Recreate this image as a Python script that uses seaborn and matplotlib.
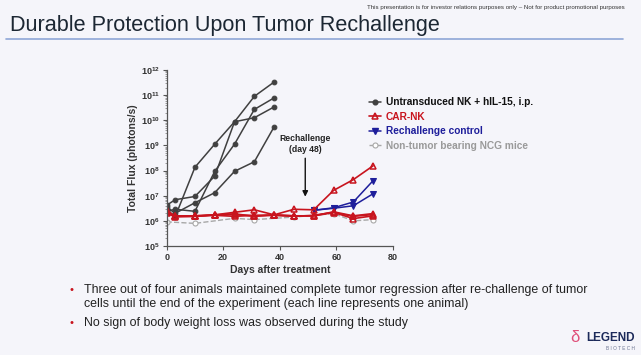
import numpy as np
import pandas as pd
import seaborn as sns
import matplotlib.pyplot as plt
from matplotlib.lines import Line2D

# days of imaging
days_nk = [0, 3, 10, 17, 24, 31, 38]
days_car = [0, 3, 10, 17, 24, 31, 38, 45, 52, 59, 66, 73]
days_rc = [52, 59, 66, 73]
days_ctrl = [0, 10, 24, 31, 45, 59, 66, 73]

# log10 total flux, one list per animal
nk_a = [6.46, 6.16, 8.13, 9.05, 9.94, 10.95, 11.52]
nk_b = [6.62, 6.84, 6.97, 7.78, 9.94, 10.10, 10.53]
nk_c = [6.38, 6.46, 6.38, 7.97, 9.05, 10.43, 10.89]
nk_d = [6.55, 6.30, 6.72, 7.12, 7.97, 8.35, 9.74]

car_1 = [6.42, 6.18, 6.18, 6.24, 6.34, 6.44, 6.24, 6.46, 6.44, 7.21, 7.64, 8.19]
car_2 = [6.38, 6.18, 6.20, 6.24, 6.25, 6.20, 6.24, 6.20, 6.20, 6.36, 6.20, 6.29]
car_3 = [6.30, 6.16, 6.18, 6.22, 6.18, 6.22, 6.22, 6.18, 6.22, 6.34, 6.09, 6.20]
car_4 = [6.35, 6.20, 6.20, 6.23, 6.28, 6.18, 6.23, 6.20, 6.20, 6.33, 6.18, 6.25]

rc_1 = [6.42, 6.52, 6.75, 7.60]
rc_2 = [6.42, 6.50, 6.60, 7.08]

ctrl = [5.96, 5.90, 6.10, 6.05, 6.15, 6.29, 6.00, 6.05]

legend_labels = ["Untransduced NK + hIL-15, i.p.", "CAR-NK",
                 "Rechallenge control", "Non-tumor bearing NCG mice"]
bullet_lines = ["Three out of four animals maintained complete tumor regression after re-challenge of tumor",
                "cells until the end of the experiment (each line represents one animal)",
                "No sign of body weight loss was observed during the study"]


def long_form(days, animals):
    rows = []
    for k, vals in enumerate(animals):
        for d, v in zip(days, vals):
            rows.append({"day": d, "flux": 10 ** v, "animal": k})
    return pd.DataFrame(rows)


df_nk = long_form(days_nk, [nk_a, nk_b, nk_c, nk_d])
df_car = long_form(days_car, [car_1, car_2, car_3, car_4])
df_rc = long_form(days_rc, [rc_1, rc_2])
df_ctrl = long_form(days_ctrl, [ctrl])

bg = "#f5f5fa"
c_nk, c_car, c_rc, c_ctrl = "#404040", "#c8141e", "#1e1e9b", "#a8a8a8"

sns.set_style("ticks")
plt.rcParams["font.family"] = ["Liberation Sans", "DejaVu Sans"]

fig = plt.figure(figsize=(6.41, 3.55), dpi=100, facecolor=bg)
ax = fig.add_axes([0.26, 0.307, 0.353, 0.496], facecolor=bg)

sns.lineplot(data=df_ctrl, x="day", y="flux", units="animal", estimator=None,
             color=c_ctrl, lw=1.0, ls="--", marker="o", ms=3.6, mfc="white",
             mec=c_ctrl, mew=0.8, ax=ax)
sns.lineplot(data=df_nk, x="day", y="flux", units="animal", estimator=None,
             color=c_nk, lw=1.1, marker="o", ms=3.4, mec=c_nk, ax=ax)
sns.lineplot(data=df_rc, x="day", y="flux", units="animal", estimator=None,
             color=c_rc, lw=1.1, marker="v", ms=4, mec=c_rc, ax=ax)
sns.lineplot(data=df_car, x="day", y="flux", units="animal", estimator=None,
             color=c_car, lw=1.2, marker="^", ms=4.6, mfc="none", mec=c_car,
             mew=1.1, ax=ax)

ax.set_yscale("log")
ax.set_ylim(1e5, 1e12)
ax.set_xlim(0, 80)
ax.set_xticks([0, 20, 40, 60, 80])
ax.set_yticks([10.0 ** p for p in range(5, 13)])
for s in ["top", "right"]:
    ax.spines[s].set_visible(False)
for s in ["left", "bottom"]:
    ax.spines[s].set_color("#555555")
    ax.spines[s].set_linewidth(0.9)
ax.tick_params(axis="both", labelsize=6.5, colors="#555555", labelcolor="#333333",
               length=3, width=0.8, pad=2)
ax.tick_params(axis="y", which="minor", length=1.6, width=0.5, colors="#777777")
for lab in ax.get_xticklabels() + ax.get_yticklabels():
    lab.set_fontweight("bold")
ax.set_xlabel("Days after treatment", fontsize=7.5, fontweight="bold",
              color="#333333", labelpad=2)
ax.set_ylabel("Total Flux (photons/s)", fontsize=7.5, fontweight="bold",
              color="#333333", labelpad=2)

# rechallenge arrow
ax.annotate("", xy=(49, 10 ** 6.85), xytext=(49, 10 ** 8.6),
            arrowprops=dict(arrowstyle="-|>", color="#111111", lw=1.0,
                            mutation_scale=8))
ax.text(49, 10 ** 9.05, "Rechallenge\n(day 48)", ha="center", va="center",
        fontsize=6.2, fontweight="bold", color="#222222", linespacing=1.2)

# legend
handles = [
    Line2D([], [], color=c_nk, lw=1.1, marker="o", ms=3.4),
    Line2D([], [], color=c_car, lw=1.2, marker="^", ms=4.6, mfc="none", mew=1.1),
    Line2D([], [], color=c_rc, lw=1.1, marker="v", ms=4),
    Line2D([], [], color=c_ctrl, lw=1.0, ls="--", marker="o", ms=3.6,
           mfc="white", mew=0.8),
]
leg = fig.legend(handles, legend_labels, loc="upper left",
                 bbox_to_anchor=(0.561, 0.752), frameon=False,
                 prop={"size": 7.3, "weight": "bold"}, handlelength=1.2,
                 handletextpad=0.5, labelspacing=0.45)
for txt, col in zip(leg.get_texts(), ["#111111", c_car, c_rc, "#9a9a9a"]):
    txt.set_color(col)

# slide furniture
fig.text(0.975, 1 - 7 / 355, "This presentation is for investor relations purposes only \u2013 "
         "Not for product promotional purposes", ha="right", va="center",
         fontsize=4.45, color="#333333")
fig.text(0.016, 1 - 26 / 355, "Durable Protection Upon Tumor Rechallenge", ha="left",
         va="center", fontsize=15.6, color="#1c2733")
fig.add_artist(Line2D([6 / 641, 623 / 641], [1 - 39 / 355, 1 - 39 / 355],
                      color="#8ea6d6", lw=1.2))

for xb, yb in [(0.109, 1 - 290 / 355), (0.109, 1 - 323 / 355)]:
    fig.text(xb, yb, "\u2022", ha="left", va="center", fontsize=8, color=c_car)
for yb, txt in zip([290, 304, 323], bullet_lines):
    fig.text(0.131, 1 - yb / 355, txt, ha="left", va="center",
             fontsize=8.9, color="#222222")

fig.text(0.99, 1 - 338 / 355, "LEGEND", ha="right", va="center", fontsize=8.5,
         fontweight="bold", color="#1c2a5a")
fig.text(0.99, 1 - 348 / 355, "B I O T E C H", ha="right", va="center",
         fontsize=3.4, color="#6a7390")
fig.text(575 / 641, 1 - 338 / 355, "\u03b4", ha="center", va="center", fontsize=12,
         color="#e0507a")

fig.savefig("out.png", dpi=100, facecolor=bg)
